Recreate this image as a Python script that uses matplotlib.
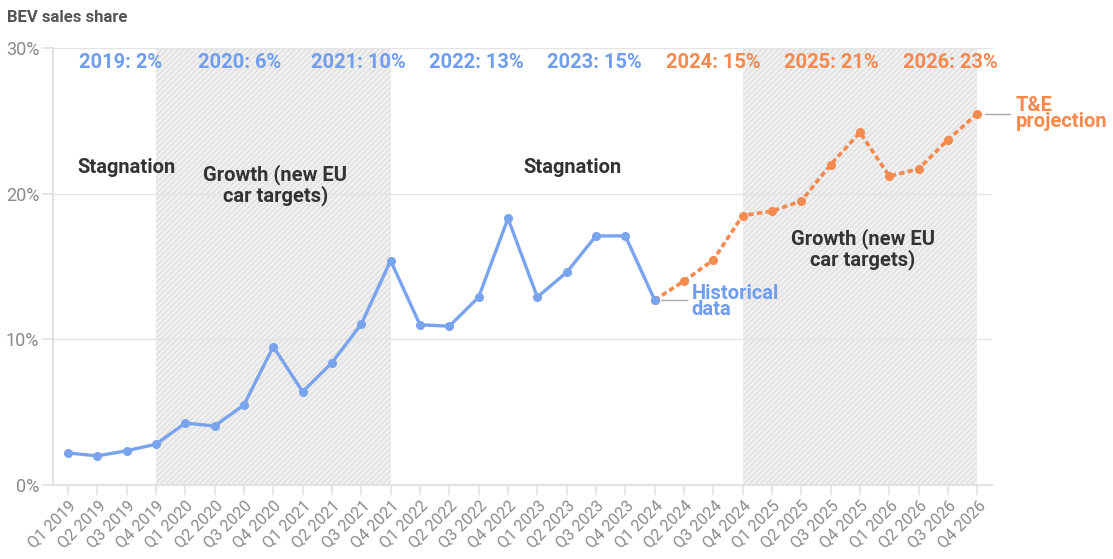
import matplotlib
matplotlib.use("Agg")
import matplotlib.pyplot as plt

plt.rcParams['font.family'] = ['Roboto', 'DejaVu Sans']
plt.rcParams['hatch.linewidth'] = 0.6

quarters = [f"Q{q} {y}" for y in range(2019, 2027) for q in range(1, 5)]
historical = [2.2, 2.0, 2.35, 2.8, 4.25, 4.05, 5.5, 9.5, 6.4, 8.4, 11.05, 15.4,
              11.0, 10.9, 12.9, 18.3, 12.9, 14.6, 17.1, 17.1, 12.7]
projection = [12.7, 14.0, 15.45, 18.5, 18.8, 19.5, 22.0, 24.2, 21.2, 21.7, 23.7, 25.5]
year_labels = ["2019: 2%", "2020: 6%", "2021: 10%", "2022: 13%", "2023: 15%",
               "2024: 15%", "2025: 21%", "2026: 23%"]
year_is_projection = [False, False, False, False, False, True, True, True]
growth_spans = [(3, 11), (23, 31)]

BLUE = '#7aa3ee'
BLUE_T = '#6f9df0'
ORANGE = '#f5894e'
GRAY = '#8a8a8a'

fig = plt.figure(figsize=(11.13, 5.59), dpi=100)
ax = fig.add_axes([53/1113, 74/559, 939/1113, 437/559])

x_hist = list(range(len(historical)))
x_proj = list(range(len(historical) - 1, len(historical) - 1 + len(projection)))

for a, b in growth_spans:
    ax.axvspan(a, b, ymin=0, ymax=1, facecolor='#f0f0f0', edgecolor='#d6d6d6',
               hatch='//////', linewidth=0, zorder=0)

ax.plot(x_proj, projection, color=ORANGE, lw=2.6, ls=(0, (1.5, 0.9)),
        marker='o', ms=5.5, zorder=3, dash_capstyle='butt')
ax.plot(x_hist, historical, color=BLUE, lw=2.4, marker='o', ms=5.5, zorder=4)

ax.set_xlim(-0.51, 31.5)
ax.set_ylim(0, 30)
ax.set_yticks([0, 10, 20, 30])
ax.set_yticklabels(['0%', '10%', '20%', '30%'])
ax.set_xticks(range(len(quarters)))
ax.set_xticklabels(quarters, rotation=45, ha='right', rotation_mode='anchor')
ax.grid(axis='y', color='#e4e4e4', lw=1, zorder=0)
ax.set_axisbelow(True)
for s in ['top', 'right']:
    ax.spines[s].set_visible(False)
ax.spines['left'].set_color('#e2e2e2')
ax.spines['bottom'].set_color('#e2e2e2')
ax.spines['left'].set_linewidth(1.5)
ax.spines['bottom'].set_linewidth(1.5)
ax.tick_params(axis='y', colors='#e2e2e2', labelcolor=GRAY, labelsize=13,
               length=8, width=1.2, pad=2)
ax.tick_params(axis='x', colors='#e2e2e2', labelcolor=GRAY, labelsize=11.5,
               length=7, width=1.2, pad=2)

fig.text(7/1113, 1 - 17/559, 'BEV sales share', fontsize=12, fontweight='bold',
         color='#555555', va='center', ha='left')

for i, (lab, proj) in enumerate(zip(year_labels, year_is_projection)):
    ax.text(1.81 + 4.037 * i, 29.0, lab, ha='center', va='center', fontsize=14.5,
            fontweight='bold', color=ORANGE if proj else BLUE_T)

ax.text(2.0, 21.8, 'Stagnation', ha='center', va='center', fontsize=14.5,
        fontweight='bold', color='#333333')
ax.text(7.07, 20.6, 'Growth (new EU\ncar targets)', ha='center', va='center',
        fontsize=14.5, fontweight='bold', color='#333333', linespacing=1.05)
ax.text(17.2, 21.8, 'Stagnation', ha='center', va='center', fontsize=14.5,
        fontweight='bold', color='#333333')
ax.text(27.1, 16.2, 'Growth (new EU\ncar targets)', ha='center', va='center',
        fontsize=14.5, fontweight='bold', color='#333333', linespacing=1.05)

ax.plot([20.2, 21.1], [12.7, 12.7], color='#aaaaaa', lw=1, zorder=2)
ax.text(21.25, 12.6, 'Historical\ndata', ha='left', va='center', fontsize=14.5,
        fontweight='bold', color=BLUE_T, linespacing=0.8)
ax.plot([31.25, 32.1], [25.5, 25.5], color='#aaaaaa', lw=1, zorder=2, clip_on=False)
ax.text(32.3, 25.5, 'T&E\nprojection', ha='left', va='center', fontsize=14.5,
        fontweight='bold', color=ORANGE, linespacing=0.8)

fig.savefig('out.png', dpi=100)
